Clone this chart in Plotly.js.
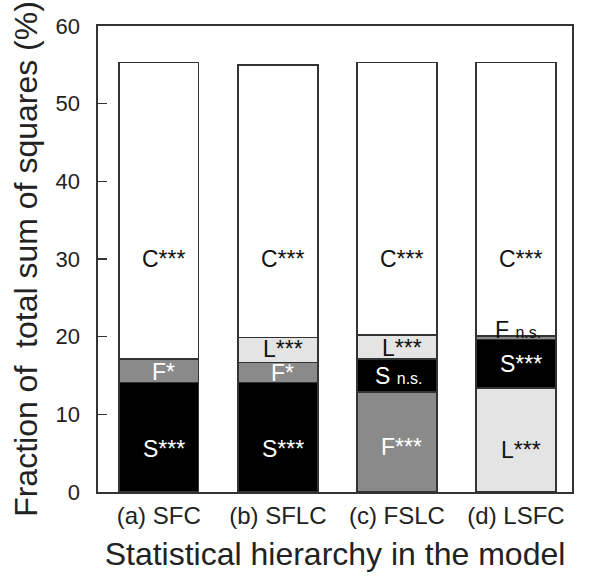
<!DOCTYPE html>
<html>
<head>
<meta charset="utf-8">
<script src="https://cdn.plot.ly/plotly-3.0.1.min.js"></script>
<style>html,body{margin:0;padding:0;background:#fff;}#chart{width:590px;height:581px;}</style>
</head>
<body>
<div id="chart"></div>
<script>
// ---- data ----
const categories = ['(a) SFC', '(b) SFLC', '(c) FSLC', '(d) LSFC'];
const hierarchy = ['SFC', 'SFLC', 'FSLC', 'LSFC'];   // stacking order, bottom to top
const S_values = [14.1, 14.1, 4.2, 6.25];
const F_values = [3.0, 2.6, 12.9, 0.45];
const L_values = [0, 3.2, 3.1, 13.4];
const C_values = [38.2, 35.1, 35.1, 35.2];
const S_sig = ['***', '***', 'n.s.', '***'];
const F_sig = ['*', '*', '***', 'n.s.'];
const L_sig = ['', '***', '***', '***'];
const C_sig = ['***', '***', '***', '***'];
const yTicks = [0, 10, 20, 30, 40, 50, 60];

// ---- styles ----
const values = {S: S_values, F: F_values, L: L_values, C: C_values};
const sigs = {S: S_sig, F: F_sig, L: L_sig, C: C_sig};
const colors = {S: '#000000', F: '#8a8a8a', L: '#e4e4e4', C: '#ffffff'};
const textColors = {S: '#ffffff', F: '#ffffff', L: '#111111', C: '#111111'};
const FONT = 'Liberation Sans, Arial, Helvetica, sans-serif';
const lineCol = '#333333';

const traces = [];
for (let k = 0; k < 4; k++) {
  const y = [], col = [];
  categories.forEach((c, i) => {
    const f = hierarchy[i][k];
    y.push(f ? values[f][i] : null);
    col.push(f ? colors[f] : '#ffffff');
  });
  traces.push({
    type: 'bar', x: categories, y: y, width: 0.67,
    marker: {color: col, line: {color: lineCol, width: 1.6}},
    hoverinfo: 'skip', showlegend: false
  });
}

// label vertical placement (visual positions in the figure)
const labelPos = {
  '(a) SFC':  {S: 5.5, F: 15.5, C: 30},
  '(b) SFLC': {S: 5.5, F: 15.3, L: 18.4, C: 30},
  '(c) FSLC': {F: 5.8, S: 15.0, L: 18.6, C: 30},
  '(d) LSFC': {L: 5.4, S: 16.5, F: 20.9, C: 30}
};
const annotations = [];
categories.forEach((c, i) => {
  hierarchy[i].split('').forEach(f => {
    const sig = sigs[f][i];
    let txt;
    if (sig === 'n.s.') txt = f + ' <span style="font-size:16px">n.s.</span>';
    else txt = f + sig;
    let color = textColors[f];
    if (f === 'F' && i === 3) color = '#111111';
    annotations.push({
      x: c, y: labelPos[c][f], xref: 'x', yref: 'y',
      text: txt, showarrow: false, xanchor: 'center', yanchor: 'middle',
      xshift: (sig === 'n.s.') ? 2 : 5,
      font: {family: FONT, size: 23, color: color}
    });
  });
});

const layout = {
  width: 590, height: 581,
  margin: {l: 98, r: 18, t: 26, b: 89},
  paper_bgcolor: '#ffffff', plot_bgcolor: '#ffffff',
  barmode: 'stack',
  font: {family: FONT, color: '#222222'},
  xaxis: {
    range: [-0.51, 3.47], showgrid: false, zeroline: false,
    showline: true, mirror: true, linecolor: lineCol, linewidth: 1.6,
    ticks: '', tickfont: {family: FONT, size: 24, color: '#222222'},
    ticklabelstandoff: 2,
    title: {text: 'Statistical hierarchy in the model', font: {family: FONT, size: 32, color: '#222222'}, standoff: 14}
  },
  yaxis: {
    range: [0, 60], tickvals: yTicks, ticktext: yTicks.map(String),
    showgrid: false, zeroline: false,
    showline: true, mirror: true, linecolor: lineCol, linewidth: 1.6,
    ticks: 'inside', ticklen: 9, tickwidth: 1.5, tickcolor: lineCol,
    tickfont: {family: FONT, size: 22, color: '#222222'},
    ticklabelstandoff: 12,
    title: {text: 'Fraction of  total sum of squares (%)', font: {family: FONT, size: 32, color: '#222222'}, standoff: 8}
  },
  annotations: annotations
};

Plotly.newPlot('chart', traces, layout, {displayModeBar: false, staticPlot: true});
</script>
</body>
</html>
